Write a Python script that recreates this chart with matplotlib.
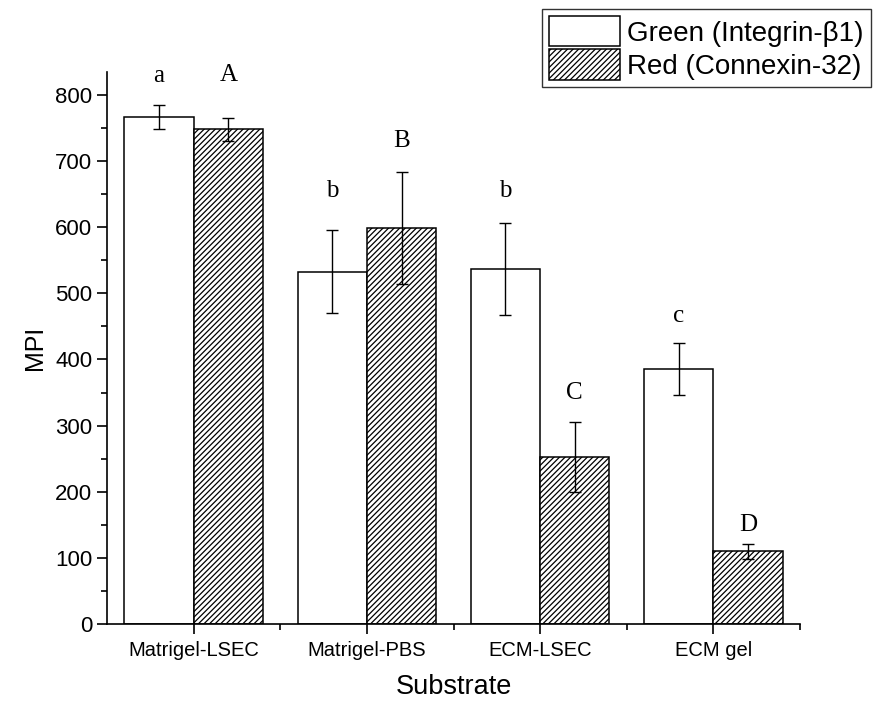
import numpy as np
import matplotlib
matplotlib.use('Agg')
import matplotlib.pyplot as plt
from matplotlib.ticker import MultipleLocator, FixedLocator

# data
substrates = ['Matrigel-LSEC', 'Matrigel-PBS', 'ECM-LSEC', 'ECM gel']
green_mpi = [767, 533, 537, 386]
green_err = [18, 63, 70, 39]
red_mpi = [748, 599, 252, 110]
red_err = [17, 85, 53, 11]
green_letters = ['a', 'b', 'b', 'c']
red_letters = ['A', 'B', 'C', 'D']
green_letter_y = [828, 655, 655, 466]
red_letter_y = [830, 730, 350, 149]

plt.rcParams['font.family'] = ['Liberation Sans', 'DejaVu Sans']
plt.rcParams['hatch.linewidth'] = 0.9

fig = plt.figure(figsize=(8.74, 7.07), dpi=100)
ax = fig.add_axes([0.1224, 0.1174, 0.793, 0.781])

x = np.arange(len(substrates))
w = 0.4
ax.bar(x - w / 2, green_mpi, w, color='white', edgecolor='black', linewidth=1.1,
       label='Green (Integrin-\u03b21)', zorder=2)
ax.bar(x + w / 2, red_mpi, w, color='white', edgecolor='black', linewidth=1.1,
       hatch='//////', label='Red (Connexin-32)', zorder=2)
ax.errorbar(x - w / 2, green_mpi, yerr=green_err, fmt='none', ecolor='black',
            elinewidth=1, capsize=4, capthick=1, zorder=3)
ax.errorbar(x + w / 2, red_mpi, yerr=red_err, fmt='none', ecolor='black',
            elinewidth=1, capsize=4, capthick=1, zorder=3)

for i in range(len(substrates)):
    ax.text(x[i] - w / 2, green_letter_y[i], green_letters[i], ha='center', va='center',
            fontsize=18, family='Liberation Serif')
    ax.text(x[i] + w / 2, red_letter_y[i], red_letters[i], ha='center', va='center',
            fontsize=18, family='Liberation Serif')

ax.set_xlim(-0.5, 3.5)
ax.set_ylim(0, 835)
ax.set_xticks(x)
ax.set_xticklabels(substrates)
ax.xaxis.set_minor_locator(FixedLocator([0.5, 1.5, 2.5, 3.5]))
ax.yaxis.set_major_locator(MultipleLocator(100))
ax.yaxis.set_minor_locator(MultipleLocator(50))
ax.tick_params(which='major', direction='out', length=7, width=1.2)
ax.tick_params(which='minor', direction='out', length=4, width=1.2)
ax.tick_params(axis='x', labelsize=14.5, pad=5)
ax.tick_params(axis='y', labelsize=16)
ax.spines['top'].set_visible(False)
ax.spines['right'].set_visible(False)
ax.spines['left'].set_linewidth(1.2)
ax.spines['bottom'].set_linewidth(1.2)

ax.set_xlabel('Substrate', fontsize=19.5, labelpad=10)
ax.set_ylabel('MPI', fontsize=18, labelpad=6)

leg = fig.legend(loc='upper right', bbox_to_anchor=(0.996, 0.987), fontsize=20,
                 frameon=True, fancybox=False, edgecolor='black', handlelength=2.55,
                 handleheight=1.3, labelspacing=0.1, borderpad=0.25, handletextpad=0.25,
                 borderaxespad=0)
leg.get_frame().set_linewidth(1.0)

fig.savefig('out.png', dpi=100)
